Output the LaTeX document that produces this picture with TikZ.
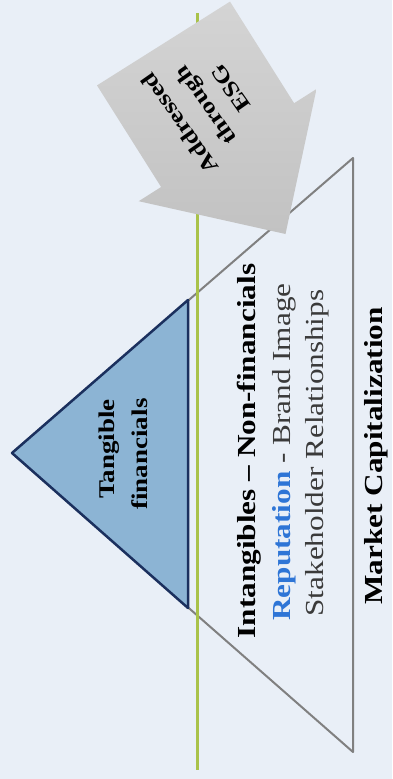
\documentclass[tikz,border=0pt]{standalone}
\usepackage{fontspec}
\setmainfont{Liberation Serif}[FakeStretch=1.2]
\definecolor{bg}{HTML}{E9EFF7}
\definecolor{bluefill}{HTML}{8CB4D4}
\definecolor{navy}{HTML}{1B305E}
\definecolor{grayline}{HTML}{808080}
\definecolor{greenline}{HTML}{A9C24A}
\definecolor{repblue}{HTML}{2E75D6}
\definecolor{darktext}{HTML}{3A3A3A}
\definecolor{arrowlight}{HTML}{D4D4D4}
\definecolor{arrowdark}{HTML}{C2C2C2}
\tikzset{
  graytri/.style={draw=grayline, line width=2pt, line join=round},
  bluetri/.style={draw=navy, fill=bluefill, line width=2.5pt, line join=round},
  vline/.style={draw=greenline, line width=3pt},
  bigarrow/.style={top color=arrowlight, bottom color=arrowdark},
  lbl/.style={rotate=90, anchor=base, inner sep=0pt},
}
\begin{document}
\begin{tikzpicture}[x=1pt,y=-1pt]
\useasboundingbox (0,0) rectangle (392,779);
\fill[bg] (0,0) rectangle (392,779);
% triangles
\coordinate (apex) at (12,453);
\coordinate (gt) at (353,158);
\coordinate (gb) at (353,752);
\coordinate (bt) at (188,300);
\coordinate (bb) at (188,608);
\draw[graytri] (apex) -- (gt) -- (gb) -- cycle;
\draw[bluetri] (apex) -- (bt) -- (bb) -- cycle;
% green line
\coordinate (gtop) at (197,13);
\coordinate (gbot) at (197,770);
\draw[vline] (gtop) -- (gbot);
% arrow
\coordinate (t1) at (97.0,85.4);
\coordinate (t2) at (230.0,1.6);
\coordinate (s1) at (294.1,103.2);
\coordinate (h1) at (316.5,89.0);
\coordinate (tip) at (285.5,234.0);
\coordinate (h2) at (138.7,201.2);
\coordinate (s2) at (161.1,187.0);
\shade[bigarrow] (t1) -- (t2) -- (s1) -- (h1) -- (tip) -- (h2) -- (s2) -- cycle;
\node[rotate=125, align=center, inner sep=0pt, font=\fontsize{22}{31}\selectfont\bfseries] (esg) at (205,106) {Addressed\\through\\ESG};
% labels
\node[lbl, font=\fontsize{22.5}{26}\selectfont\bfseries] (tang) at (114,449) {Tangible};
\node[lbl, font=\fontsize{22.5}{26}\selectfont\bfseries] (fin) at (147,454) {financials};
\node[lbl, font=\fontsize{26}{30}\selectfont\bfseries] (intang) at (255,451) {Intangibles – Non-financials};
\node[lbl, font=\fontsize{26}{30}\selectfont, text=darktext] (rep) at (290,452) {\textcolor{repblue}{\bfseries Reputation} - Brand Image};
\node[lbl, font=\fontsize{26}{30}\selectfont, text=darktext] (stake) at (323,453) {Stakeholder Relationships};
\node[lbl, font=\fontsize{26}{30}\selectfont\bfseries] (mcap) at (382,456) {Market Capitalization};
\end{tikzpicture}
\end{document}
